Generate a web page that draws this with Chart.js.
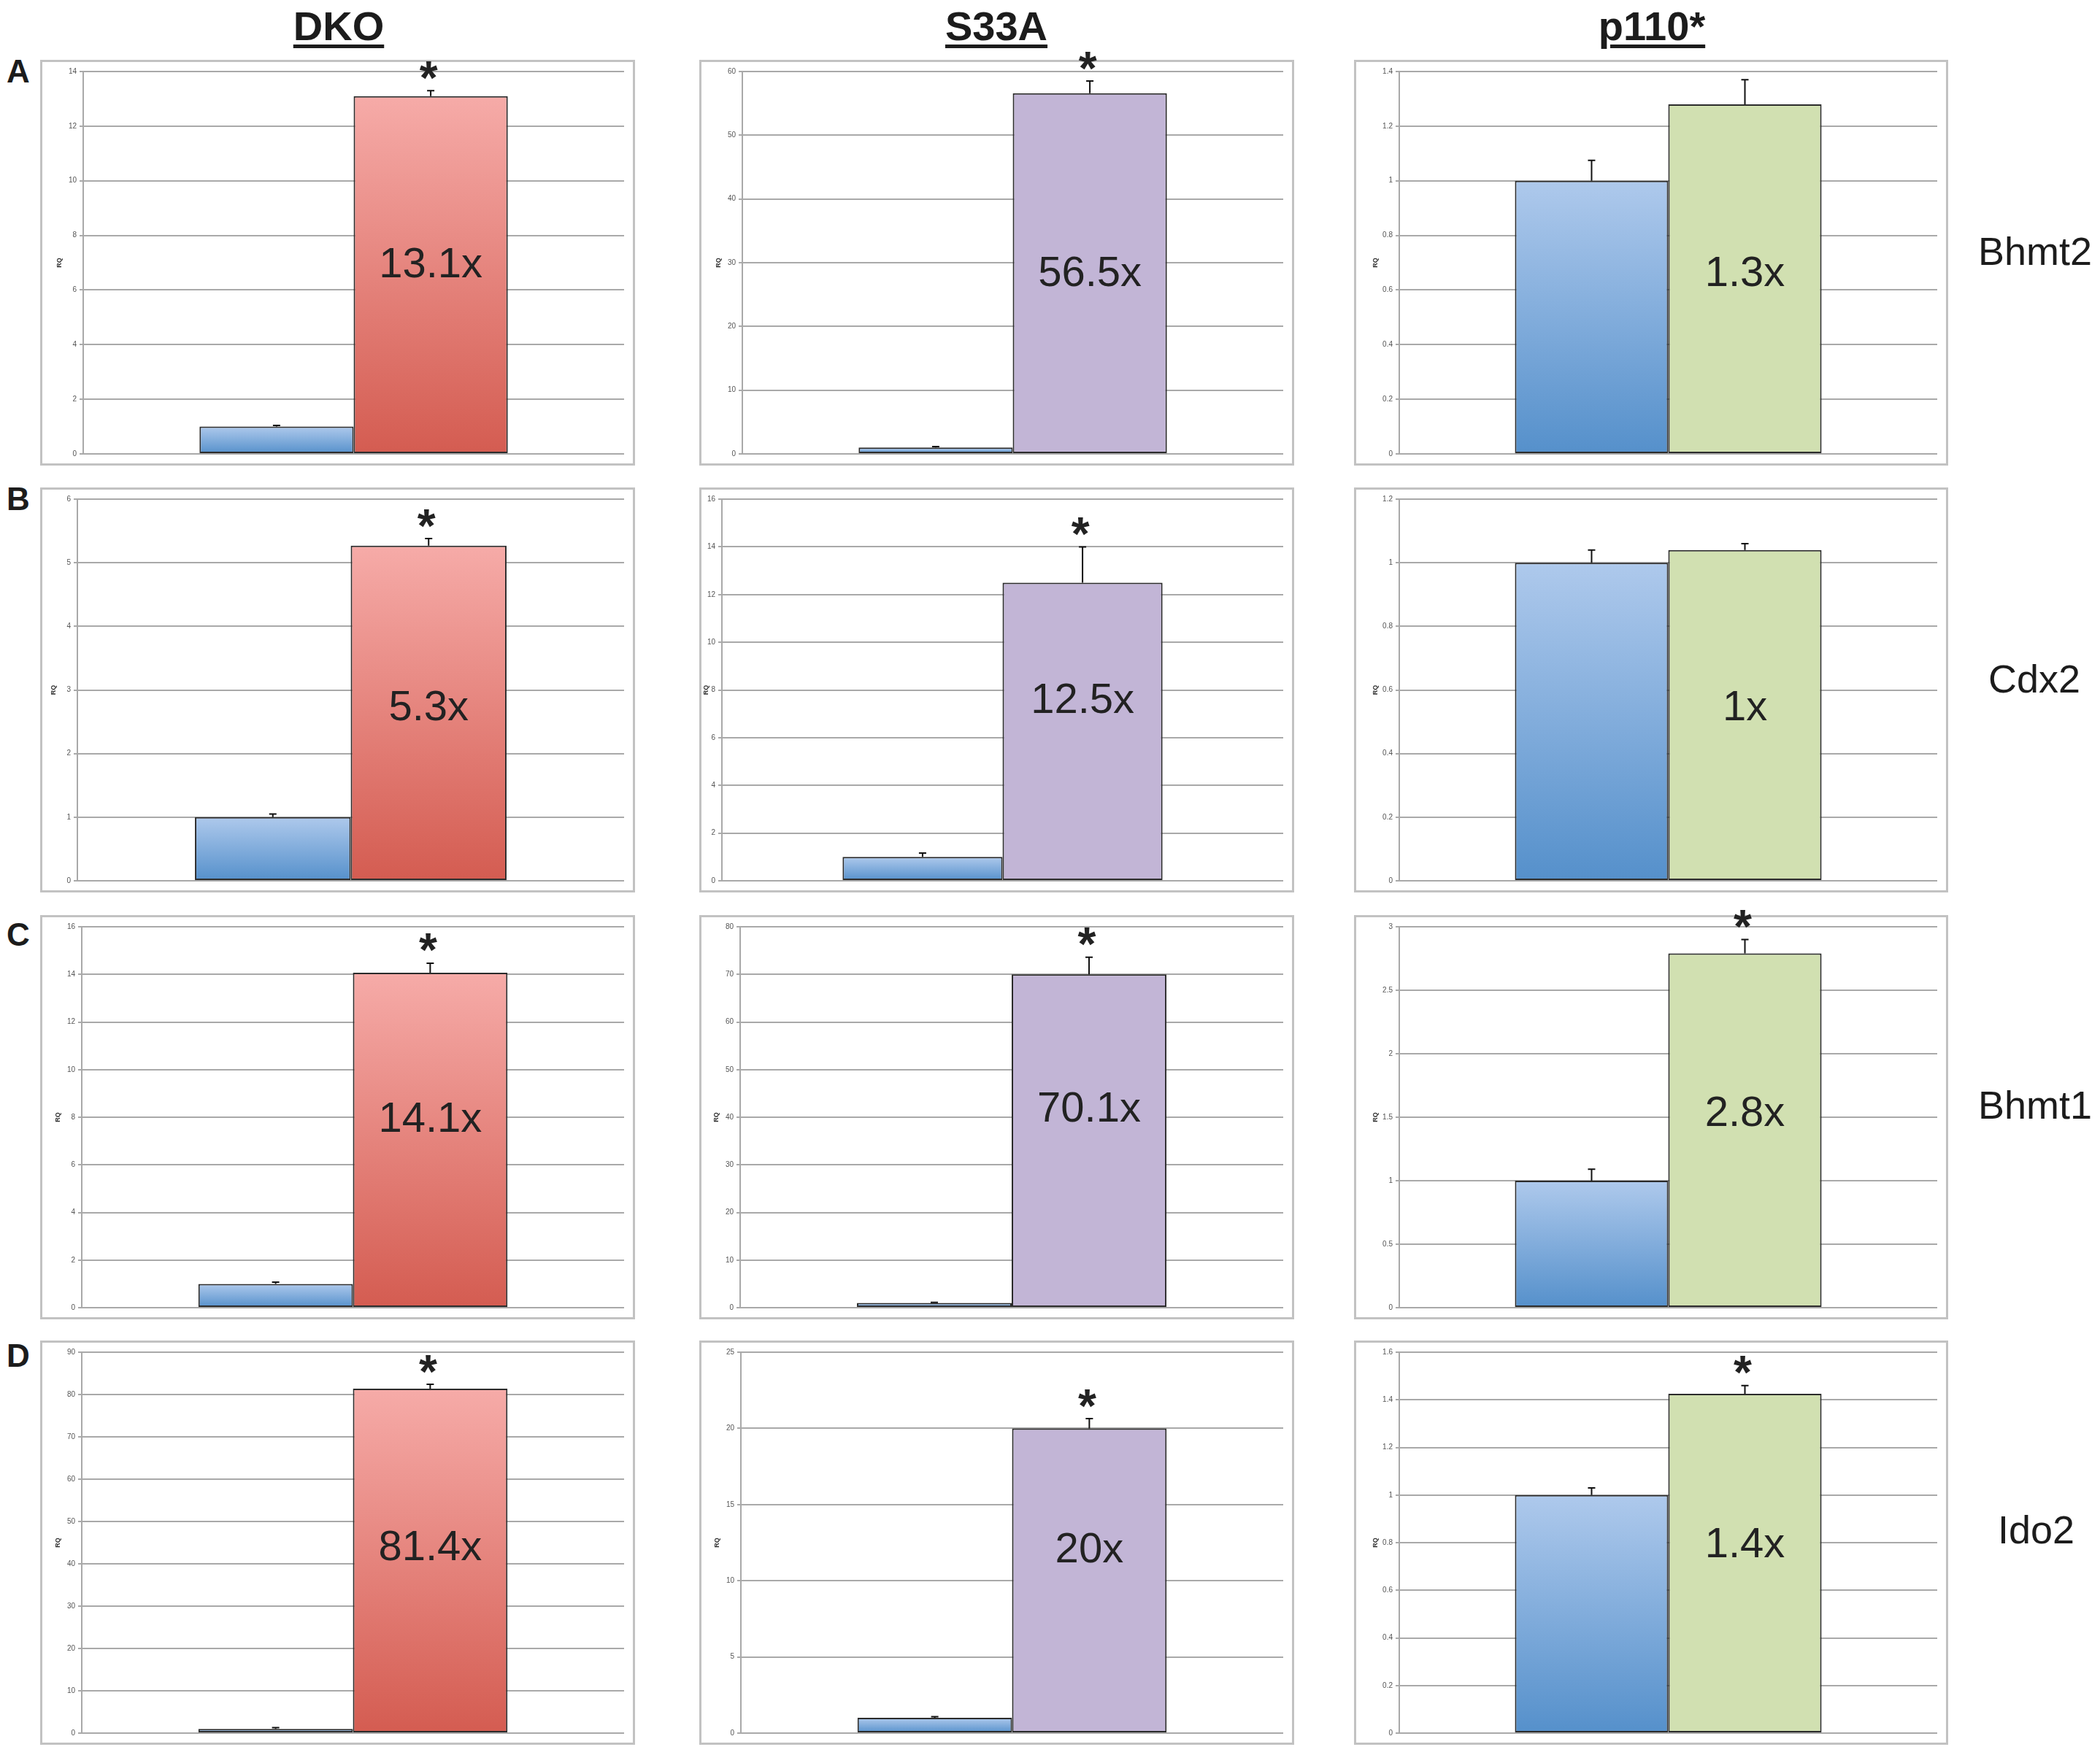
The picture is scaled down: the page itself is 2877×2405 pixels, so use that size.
<!DOCTYPE html>
<html>
<head>
<meta charset="utf-8">
<script src="https://cdn.jsdelivr.net/npm/chart.js@4.4.1/dist/chart.umd.min.js"></script>
<style>
  body { margin: 0; background: #fff; width: 2877px; height: 2405px; position: relative; overflow: hidden;
         font-family: "Liberation Sans", Arial, sans-serif; color: #1c1c1c; }
  .head { position: absolute; top: 8px; font-weight: bold; font-size: 56px; line-height: 56px; white-space: nowrap;
          text-decoration: underline; text-decoration-thickness: 5px; text-underline-offset: 6px; transform: translateX(-50%); }
  .letter { position: absolute; left: 9px; font-weight: bold; font-size: 44px; line-height: 44px; }
  .gene { position: absolute; font-size: 54px; line-height: 54px; white-space: nowrap; }
  .panel { position: absolute; border: 3px solid #c2c2c2; box-sizing: border-box; }
  .inner { position: absolute; left: 0; right: 0; top: -30px; bottom: 0; }
</style>
</head>
<body>
<script>
const genes = ['Bhmt2', 'Cdx2', 'Bhmt1', 'Ido2'];
const rowLetters = ['A', 'B', 'C', 'D'];
const models = ['DKO', 'S33A', 'p110*'];
const groups = ['Control', 'Mutant'];

// RQ values, one row per gene, one column per model
const controlRQ  = [[1, 1, 1], [1, 1, 1], [1, 1, 1], [1, 1, 1]];
const controlErr = [[0.04, 0.15, 0.075], [0.05, 0.16, 0.04], [0.07, 0.1, 0.09], [0.3, 0.08, 0.03]];
const mutantRQ   = [[13.1, 56.6, 1.28], [5.27, 12.5, 1.04], [14.07, 70.0, 2.79], [81.4, 20.0, 1.425]];
const mutantErr  = [[0.2, 1.9, 0.09], [0.11, 1.5, 0.02], [0.4, 3.6, 0.11], [1.0, 0.64, 0.035]];
const foldLabels = [['13.1x', '56.5x', '1.3x'], ['5.3x', '12.5x', '1x'], ['14.1x', '70.1x', '2.8x'], ['81.4x', '20x', '1.4x']];
const significant = [[true, true, false], [true, true, false], [true, true, true], [true, true, true]];
const yMax  = [[14, 60, 1.4], [6, 16, 1.2], [16, 80, 3], [90, 25, 1.6]];
const yStep = [[2, 10, 0.2], [1, 2, 0.2], [2, 10, 0.5], [10, 5, 0.2]];

// layout
const colLeft = [55, 958, 1855];
const colWidth = [815, 815, 814];
const colCenter = [464, 1365, 2263];
const rowTop = [82, 668, 1254, 1837];
const rowHeight = [556, 555, 554, 554];
const letterTop = [76, 662, 1259, 1836];
const geneLeft = [2710, 2724, 2710, 2737];
const geneTop = [317, 903, 1487, 2069];
const axisOffset = [[59, 59, 62], [51, 31, 62], [57, 56, 62], [57, 57, 62]];
const labelShift = [[0, 12, 12], [21, 11, 21], [0, -14, -8], [4, 7, 0]];
const overhang = 30;

function addText(cls, text, left, top) {
  const d = document.createElement('div');
  d.className = cls;
  d.textContent = text;
  d.style.left = left + 'px';
  if (top !== undefined) d.style.top = top + 'px';
  document.body.appendChild(d);
}

models.forEach((m, c) => addText('head', m, colCenter[c]));
rowLetters.forEach((l, r) => addText('letter', l, 9, letterTop[r]));
genes.forEach((g, r) => addText('gene', g, geneLeft[r], geneTop[r]));

function gradient(top, bottom) {
  return (ctx) => {
    const chart = ctx.chart;
    const y = chart.scales.y;
    if (!chart.chartArea || !y || ctx.type !== 'data') return bottom;
    const yTop = y.getPixelForValue(ctx.parsed.y);
    const yBase = y.getPixelForValue(0);
    if (!isFinite(yTop) || yBase - yTop < 1) return bottom;
    const g = chart.ctx.createLinearGradient(0, yTop, 0, yBase);
    g.addColorStop(0, top);
    g.addColorStop(1, bottom);
    return g;
  };
}

const blueFill = gradient('#aec9ec', '#5590cb');
const mutantFill = [gradient('#f6aba8', '#d45c51'), '#c2b5d6', '#d1e0b1'];

for (let r = 0; r < genes.length; r++) {
  for (let c = 0; c < models.length; c++) {
    const box = document.createElement('div');
    box.className = 'panel';
    box.style.left = colLeft[c] + 'px';
    box.style.top = rowTop[r] + 'px';
    box.style.width = colWidth[c] + 'px';
    box.style.height = rowHeight[r] + 'px';
    const inner = document.createElement('div');
    inner.className = 'inner';
    const cv = document.createElement('canvas');
    inner.appendChild(cv);
    box.appendChild(inner);
    document.body.appendChild(box);

    const axisW = axisOffset[r][c] - 3;
    const errs = [controlErr[r][c], mutantErr[r][c]];

    const marks = {
      id: 'marks',
      afterDatasetsDraw(chart) {
        const y = chart.scales.y, area = chart.chartArea, g = chart.ctx;
        g.save();
        g.strokeStyle = '#111';
        g.lineWidth = 2;
        let errTop = 0;
        chart.data.datasets.forEach((ds, i) => {
          const bar = chart.getDatasetMeta(i).data[0];
          const top = y.getPixelForValue(ds.data[0] + errs[i]);
          g.beginPath();
          g.moveTo(bar.x, bar.y);
          g.lineTo(bar.x, top);
          g.moveTo(bar.x - 5, top);
          g.lineTo(bar.x + 5, top);
          g.stroke();
          if (i === 1) errTop = top;
        });
        const mb = chart.getDatasetMeta(1).data[0];
        g.fillStyle = '#222';
        g.textAlign = 'center';
        g.textBaseline = 'alphabetic';
        g.font = '58px "Liberation Sans", Arial, sans-serif';
        let mt = g.measureText(foldLabels[r][c]);
        const cy = (area.top + area.bottom) / 2 + labelShift[r][c];
        g.fillText(foldLabels[r][c], mb.x, cy + (mt.actualBoundingBoxAscent - mt.actualBoundingBoxDescent) / 2);
        if (significant[r][c]) {
          g.font = 'bold 64px "Liberation Sans", Arial, sans-serif';
          mt = g.measureText('*');
          const sy = errTop - 28;
          g.fillText('*', mb.x - 3, sy + (mt.actualBoundingBoxAscent - mt.actualBoundingBoxDescent) / 2);
        }
        g.restore();
      }
    };

    new Chart(cv, {
      type: 'bar',
      data: {
        labels: [genes[r]],
        datasets: [
          { label: groups[0], data: [controlRQ[r][c]], backgroundColor: blueFill },
          { label: groups[1], data: [mutantRQ[r][c]], backgroundColor: mutantFill[c] }
        ]
      },
      options: {
        responsive: true,
        maintainAspectRatio: false,
        animation: false,
        layout: { padding: { top: 13 + overhang, bottom: 13, right: 12, left: 0 } },
        datasets: {
          bar: { categoryPercentage: 0.57, barPercentage: 1, borderColor: '#2b2b2b', borderWidth: 2, borderSkipped: false }
        },
        plugins: { legend: { display: false }, tooltip: { enabled: false } },
        scales: {
          x: { display: false },
          y: {
            min: 0,
            max: yMax[r][c],
            ticks: {
              stepSize: yStep[r][c],
              color: '#555',
              padding: 4,
              font: { family: 'Liberation Sans', size: 10 },
              callback: v => String(+v.toFixed(2))
            },
            grid: { color: '#a9a9a9', lineWidth: 2, tickLength: 5 },
            border: { color: '#a9a9a9', width: 2 },
            title: {
              display: true,
              text: 'RQ',
              color: '#333',
              font: { family: 'Liberation Sans', size: 9, weight: 'bold' },
              padding: { top: Math.max(1, axisW - 32 - 5.4), bottom: 0 }
            },
            afterFit: s => { s.width = axisW; }
          }
        }
      },
      plugins: [marks]
    });
  }
}
</script>
</body>
</html>
